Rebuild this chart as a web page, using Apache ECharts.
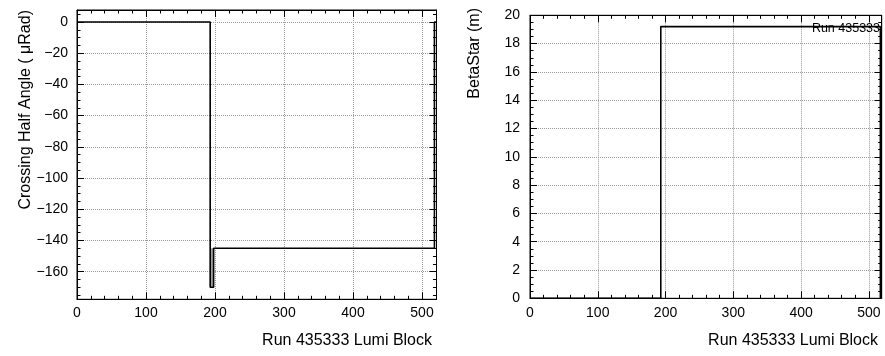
<!DOCTYPE html>
<html>
<head>
<meta charset="utf-8">
<script src="https://cdn.jsdelivr.net/npm/echarts@6/dist/echarts.min.js"></script>
<style>
  html, body { margin: 0; padding: 0; background: #fff; }
  #chart { width: 885px; height: 356px; }
</style>
</head>
<body>
<div id="chart"></div>
<script>
// left pad: crossing half angle, step values start at each lumi block edge
var lumiLeft = [0, 193, 198, 518, 521];
var crossingAngle = [0, -170, -145, 0, 0];
// right pad: beta star
var lumiRight = [0, 193, 517, 519];
var betaStar = [0, 19.2, 0, 0];

var runLabel = 'Run 435333';
var xTitle = 'Run 435333 Lumi Block';
var yTitleLeft = 'Crossing Half Angle ( \u03bcRad)';
var yTitleRight = 'BetaStar (m)';

var font = 'Liberation Sans, Arial, Helvetica, sans-serif';

function pairs(xs, ys) {
  var out = [];
  xs.forEach(function (x, i) { out.push([x, ys[i]]); });
  return out;
}
function minus(v) { return String(v).replace('-', '\u2212'); }

function baseAxis(extra) {
  var a = {
    type: 'value',
    axisLine: { show: true, onZero: false, lineStyle: { color: '#000', width: 1 } },
    axisTick: { show: true, inside: true, length: 7, lineStyle: { color: '#000' } },
    minorTick: { show: true, length: 3.5, lineStyle: { color: '#000' } },
    axisLabel: { color: '#000', fontSize: 14, fontFamily: font, showMinLabel: true, showMaxLabel: false },
    splitLine: { show: false }
  };
  for (var k in extra) a[k] = extra[k];
  return a;
}
var dotted = { show: true, lineStyle: { type: 'dotted', color: '#9a9a9a', width: 1 } };

var chart = echarts.init(document.getElementById('chart'));
var option = {
  animation: false,
  grid: [
    { left: 77, top: 10, width: 359.5, height: 289.3, show: true, borderColor: '#000', borderWidth: 1 },
    { left: 530, top: 15.3, width: 351.7, height: 283, show: true, borderColor: '#000', borderWidth: 1 }
  ],
  xAxis: [
    baseAxis({ gridIndex: 0, min: 0, max: 521, interval: 100, position: 'bottom',
      minorTick: { show: true, splitNumber: 5, length: 3.5, lineStyle: { color: '#000' } },
      axisLabel: { color: '#000', fontSize: 14, fontFamily: font, margin: 7, showMaxLabel: false },
      splitLine: dotted }),
    baseAxis({ gridIndex: 0, min: 0, max: 521, interval: 100, position: 'top',
      minorTick: { show: true, splitNumber: 5, length: 3.5, lineStyle: { color: '#000' } },
      axisLabel: { show: false } }),
    baseAxis({ gridIndex: 1, min: 0, max: 519, interval: 100, position: 'bottom',
      minorTick: { show: true, splitNumber: 5, length: 3.5, lineStyle: { color: '#000' } },
      axisLabel: { color: '#000', fontSize: 14, fontFamily: font, margin: 8, showMaxLabel: false },
      splitLine: dotted }),
    baseAxis({ gridIndex: 1, min: 0, max: 519, interval: 100, position: 'top',
      minorTick: { show: true, splitNumber: 5, length: 3.5, lineStyle: { color: '#000' } },
      axisLabel: { show: false } })
  ],
  yAxis: [
    baseAxis({ gridIndex: 0, min: -177.7, max: 7.7, minInterval: 20, maxInterval: 20, splitNumber: 9, position: 'left',
      minorTick: { show: true, splitNumber: 4, length: 3.5, lineStyle: { color: '#000' } },
      axisLabel: { color: '#000', fontSize: 14, fontFamily: font, margin: 9, showMinLabel: false, showMaxLabel: false, formatter: minus },
      splitLine: dotted }),
    baseAxis({ gridIndex: 0, min: -177.7, max: 7.7, minInterval: 20, maxInterval: 20, splitNumber: 9, position: 'right',
      minorTick: { show: true, splitNumber: 4, length: 3.5, lineStyle: { color: '#000' } },
      axisLabel: { show: false } }),
    baseAxis({ gridIndex: 1, min: 0, max: 20, interval: 2, position: 'left',
      minorTick: { show: true, splitNumber: 4, length: 3.5, lineStyle: { color: '#000' } },
      axisLabel: { color: '#000', fontSize: 14, fontFamily: font, margin: 10, showMaxLabel: true },
      splitLine: dotted }),
    baseAxis({ gridIndex: 1, min: 0, max: 20, interval: 2, position: 'right',
      minorTick: { show: true, splitNumber: 4, length: 3.5, lineStyle: { color: '#000' } },
      axisLabel: { show: false } })
  ],
  series: [
    {
      type: 'line', xAxisIndex: 0, yAxisIndex: 0, step: 'end', symbol: 'none',
      lineStyle: { color: '#000', width: 1.6 },
      data: pairs(lumiLeft, crossingAngle),
      markArea: {
        silent: true,
        itemStyle: { color: '#a0a0a0' },
        data: [[{ coord: [lumiLeft[1], crossingAngle[1]] }, { coord: [lumiLeft[2], crossingAngle[2]] }]]
      }
    },
    {
      type: 'line', xAxisIndex: 2, yAxisIndex: 2, step: 'end', symbol: 'none',
      lineStyle: { color: '#000', width: 1.6 },
      data: pairs(lumiRight, betaStar)
    }
  ],
  graphic: [
    { type: 'text', x: 26, y: 10, rotation: Math.PI / 2,
      style: { text: yTitleLeft, font: '16px ' + font, fill: '#000', align: 'right', verticalAlign: 'middle' } },
    { type: 'text', x: 432, y: 341,
      style: { text: xTitle, font: '16px ' + font, fill: '#000', align: 'right', verticalAlign: 'middle' } },
    { type: 'text', x: 475, y: 8, rotation: Math.PI / 2,
      style: { text: yTitleRight, font: '16px ' + font, fill: '#000', align: 'right', verticalAlign: 'middle' } },
    { type: 'text', x: 878, y: 341,
      style: { text: xTitle, font: '16px ' + font, fill: '#000', align: 'right', verticalAlign: 'middle' } },
    { type: 'text', x: 880, y: 29, z: 10,
      style: { text: runLabel, font: '12.5px ' + font, fill: '#000', align: 'right', verticalAlign: 'middle' } }
  ]
};
chart.setOption(option);
</script>
</body>
</html>
